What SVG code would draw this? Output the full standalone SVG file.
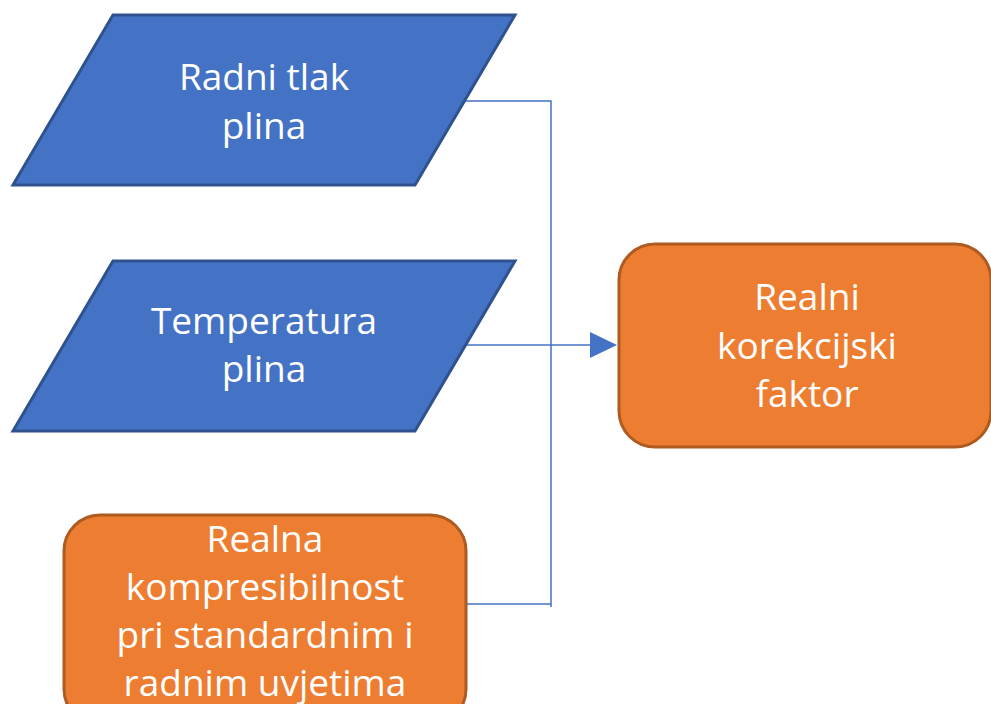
<svg xmlns="http://www.w3.org/2000/svg" width="991" height="704" viewBox="0 0 991 704">
<defs>
<style>
.io{fill:#4472C4;stroke:#2F528F;stroke-width:3;stroke-linejoin:miter}
.proc{fill:#ED7D31;stroke:#AE5A21;stroke-width:3}
.t{font-family:"Open Sans","Liberation Sans",sans-serif;font-size:37px;fill:#FFFFFF;text-anchor:middle}
.c{fill:none;stroke:#4472C4;stroke-width:1.5}
</style>
</defs>
<rect width="991" height="704" fill="#FFFFFF"/>
<g id="connectors">
<polyline class="c" points="465,101 551,101 551,607"/>
<line class="c" x1="467" y1="604" x2="551" y2="604"/>
<line class="c" x1="466" y1="345" x2="592" y2="345"/>
<path d="M590,332 L617,345 L590,358 Z" fill="#4472C4"/>
</g>
<g id="n1">
<polygon class="io" points="113,15 515,15 415,185 13,185"/>
<text class="t" x="264" y="90">Radni tlak</text>
<text class="t" x="264" y="139">plina</text>
</g>
<g id="n2">
<polygon class="io" points="113,261 515,261 415,431 13,431"/>
<text class="t" x="264" y="334">Temperatura</text>
<text class="t" x="264" y="382">plina</text>
</g>
<g id="n3">
<rect class="proc" x="619" y="244" width="372" height="203" rx="36" ry="36"/>
<text class="t" x="807" y="310">Realni</text>
<text class="t" x="807" y="359">korekcijski</text>
<text class="t" x="807" y="407">faktor</text>
</g>
<g id="n4">
<rect class="proc" x="64" y="515" width="402" height="210" rx="36" ry="36"/>
<text class="t" x="265" y="552">Realna</text>
<text class="t" x="265" y="600">kompresibilnost</text>
<text class="t" x="265" y="648">pri standardnim i</text>
<text class="t" x="265" y="696">radnim uvjetima</text>
</g>
</svg>
